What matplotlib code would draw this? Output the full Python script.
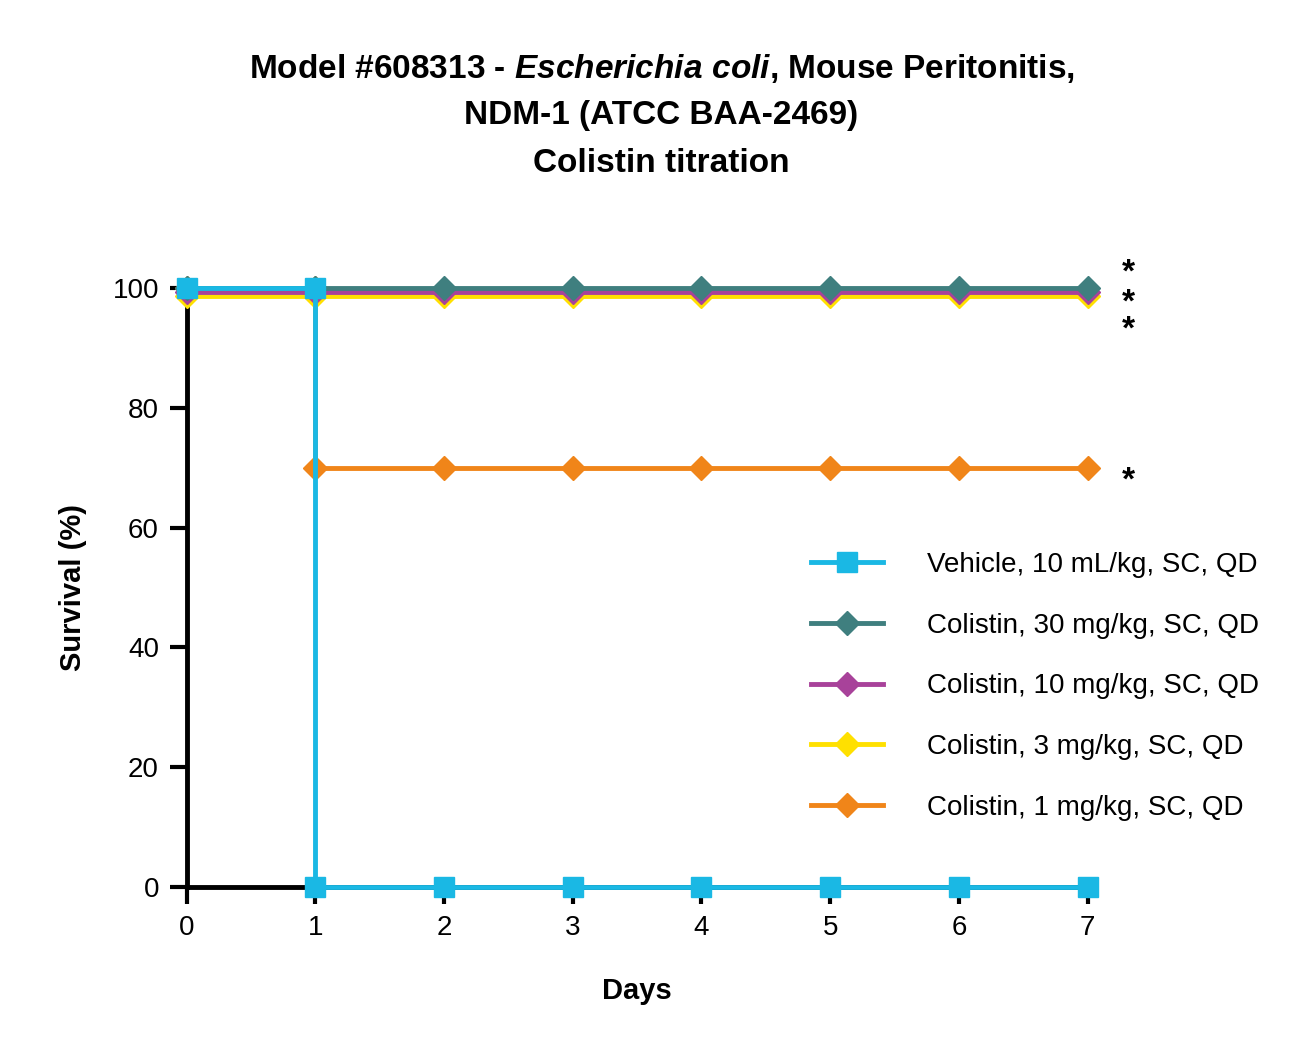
import matplotlib
matplotlib.use("Agg")
import matplotlib.pyplot as plt
import matplotlib.transforms as mtrans

plt.rcParams['font.family'] = ['Liberation Sans', 'DejaVu Sans']
plt.rcParams['mathtext.fontset'] = 'custom'
plt.rcParams['mathtext.it'] = 'Liberation Sans:italic:bold'
plt.rcParams['mathtext.rm'] = 'Liberation Sans:bold'

days = [0, 1, 2, 3, 4, 5, 6, 7]
labels = ["Vehicle, 10 mL/kg, SC, QD", "Colistin, 30 mg/kg, SC, QD",
          "Colistin, 10 mg/kg, SC, QD", "Colistin, 3 mg/kg, SC, QD",
          "Colistin, 1 mg/kg, SC, QD"]
vehicle = [100, 0, 0, 0, 0, 0, 0, 0]
col30 = [100, 100, 100, 100, 100, 100, 100, 100]
col10 = [100, 100, 100, 100, 100, 100, 100, 100]
col3 = [100, 100, 100, 100, 100, 100, 100, 100]
col1 = [100, 70, 70, 70, 70, 70, 70, 70]
colors = ["#1AB8E4", "#3F7F7F", "#A8429A", "#FFE000", "#F08519"]
markers = ["s", "D", "D", "D", "D"]
offsets_pt = [0, 0, -3, -6, 0]  # visual offset of overlapping curves

fig = plt.figure(figsize=(13.15, 10.63), dpi=100)
ax = fig.add_axes([0.142, 0.1656, 0.685, 0.5634])

def step_xy(x, y):
    xs, ys = [x[0]], [y[0]]
    for i in range(1, len(x)):
        if y[i] != y[i-1]:
            xs.append(x[i]); ys.append(y[i-1])
        xs.append(x[i]); ys.append(y[i])
    return xs, ys

order = [4, 3, 2, 1, 0]
series = [vehicle, col30, col10, col3, col1]
handles = {}
for i in order:
    xs, ys = step_xy(days, series[i])
    tr = mtrans.offset_copy(ax.transData, fig=fig, x=0, y=offsets_pt[i], units='points')
    ms = 15 if markers[i] == 's' else 12
    h, = ax.plot(xs, ys, color=colors[i], lw=3.5, marker=markers[i], ms=ms,
                 transform=tr, clip_on=False, zorder=3 + (i == 0))
    handles[i] = h

ax.set_xlim(0, 7)
ax.set_ylim(0, 100)
ax.spines['top'].set_visible(False)
ax.spines['right'].set_visible(False)
for s in ['left', 'bottom']:
    ax.spines[s].set_linewidth(3.5)
ax.set_xticks(days)
ax.set_yticks([0, 20, 40, 60, 80, 100])
ax.tick_params(width=3, length=12, labelsize=20, pad=8)
ax.set_xlabel("Days", fontsize=21, fontweight='bold', labelpad=26)
ax.set_ylabel("Survival (%)", fontsize=21, fontweight='bold', labelpad=18)

for yv in [102.5, 97.5, 93.0, 67.8]:
    ax.text(7.32, yv, "*", fontsize=24, fontweight='bold', ha='center', va='center', clip_on=False)

ax.legend([handles[i] for i in range(5)], labels, loc='center left',
          bbox_to_anchor=(0.665, 0.335), frameon=False, fontsize=20,
          handlelength=2.6, labelspacing=1.25, handletextpad=1.6)

fig.text(0.503, 0.936, "Model #608313 - $Escherichia\\ coli$, Mouse Peritonitis,",
         ha='center', va='center', fontsize=24, fontweight='bold')
fig.text(0.503, 0.891, "NDM-1 (ATCC BAA-2469)", ha='center', va='center', fontsize=24, fontweight='bold')
fig.text(0.503, 0.846, "Colistin titration", ha='center', va='center', fontsize=24, fontweight='bold')

fig.savefig("out.png", dpi=100)
